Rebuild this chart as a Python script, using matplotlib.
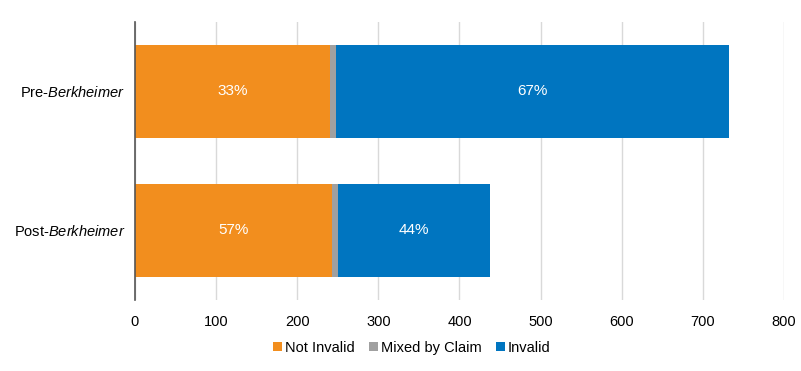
import matplotlib
matplotlib.use("Agg")
import matplotlib.pyplot as plt
from matplotlib.patches import Patch

plt.rcParams['font.family'] = ['Liberation Sans', 'DejaVu Sans']
plt.rcParams['mathtext.fontset'] = 'custom'
plt.rcParams['mathtext.rm'] = 'Liberation Sans'
plt.rcParams['mathtext.it'] = 'Liberation Sans:italic'

categories = ["Pre-$\\mathit{Berkheimer}$", "Post-$\\mathit{Berkheimer}$"]
series_names = ["Not Invalid", "Mixed by Claim", "Invalid"]
not_invalid = [240, 243]
mixed = [8, 7]
invalid = [484, 187]
not_invalid_labels = ["33%", "57%"]
invalid_labels = ["67%", "44%"]
xticks = [0, 100, 200, 300, 400, 500, 600, 700, 800]

colors = ["#F28E1E", "#A0A0A0", "#0075C0"]

fig = plt.figure(figsize=(8.01, 3.71), dpi=100)
ax = fig.add_axes([0.1685, 0.1914, 0.8103, 0.7493])

y = [0, 1]
left = [0, 0]
all_series = [not_invalid, mixed, invalid]
containers = []
for vals, col in zip(all_series, colors):
    c = ax.barh(y, vals, left=left, height=0.667, color=col, zorder=3)
    containers.append(c)
    left = [l + v for l, v in zip(left, vals)]

ax.bar_label(containers[0], labels=not_invalid_labels, label_type='center',
             color='white', fontsize=11, zorder=4)
ax.bar_label(containers[2], labels=invalid_labels, label_type='center',
             color='white', fontsize=11, zorder=4)

ax.set_ylim(1.5, -0.5)
ax.set_xlim(0, 800)
ax.set_xticks(xticks)
ax.set_yticks(y)
ax.set_yticklabels(categories)
ax.tick_params(axis='both', length=0, labelsize=10.5, colors='black')
ax.tick_params(axis='x', pad=11)
ax.tick_params(axis='y', pad=7)
ax.grid(axis='x', color='#D9D9D9', linewidth=1, zorder=0)
for s in ['top', 'right', 'bottom']:
    ax.spines[s].set_visible(False)
ax.spines['left'].set_color('#555555')
ax.spines['left'].set_linewidth(1.2)
ax.spines['left'].set_zorder(5)

handles = [Patch(facecolor=c, edgecolor='none') for c in colors]
fig.legend(handles, series_names, loc='center', bbox_to_anchor=(0.514, 0.062),
           ncol=3, frameon=False, fontsize=10.5, handlelength=0.6, handleheight=0.6,
           handletextpad=0.2, columnspacing=1.0)

fig.savefig("out.png", dpi=100)
